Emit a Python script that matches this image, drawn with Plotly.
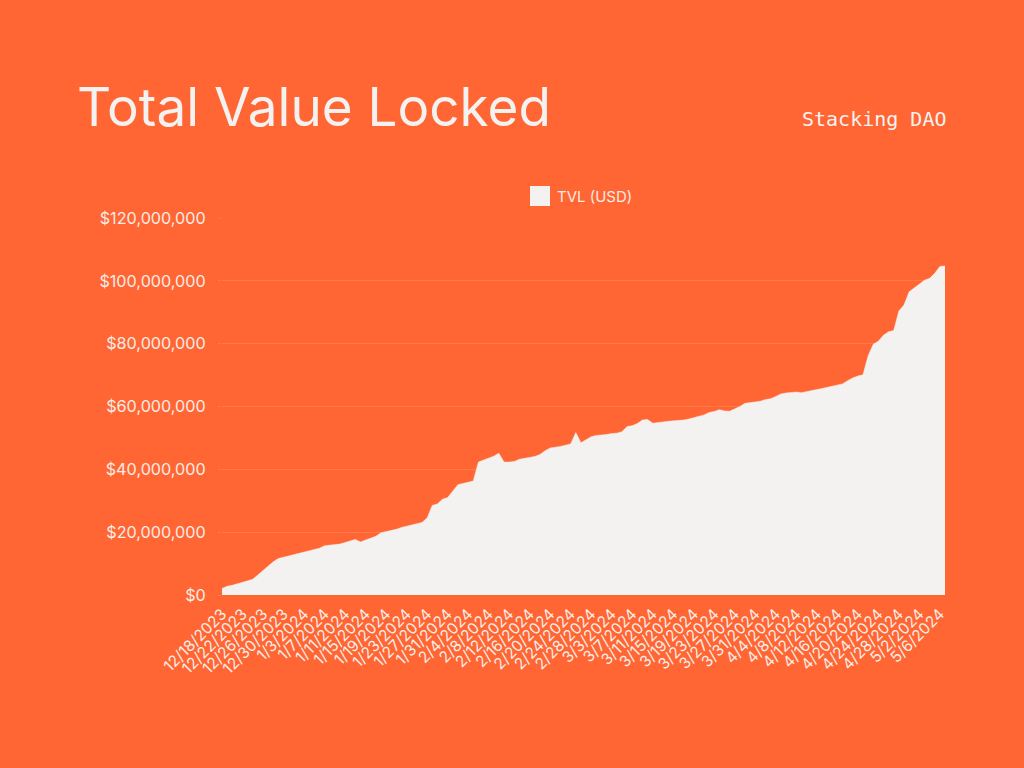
import pandas as pd
import plotly.graph_objects as go

# ---- data ----
start_date = "2023-12-18"
tvl_musd = [
    2.1, 2.8, 3.1, 3.5, 4.1, 4.5, 5.0, 6.4, 7.6, 9.2,
    10.6, 11.6, 12.0, 12.4, 12.8, 13.4, 13.7, 14.1, 14.5, 14.9,
    15.7, 15.9, 16.0, 16.2, 16.7, 17.2, 17.7, 16.9, 17.5, 18.1,
    18.7, 19.8, 20.2, 20.4, 20.9, 21.5, 21.9, 22.2, 22.5, 23.1,
    24.5, 28.5, 29.0, 30.5, 31.0, 33.2, 35.1, 35.5, 36.0, 36.3,
    42.3, 42.9, 43.4, 44.2, 45.1, 42.3, 42.3, 42.5, 43.2, 43.5,
    43.8, 44.1, 44.7, 45.9, 46.8, 47.0, 47.3, 47.7, 48.1, 51.7,
    48.5, 49.4, 50.4, 50.8, 50.9, 51.1, 51.4, 51.5, 52.0, 53.6,
    53.9, 54.6, 55.7, 55.9, 54.7, 54.8, 55.1, 55.3, 55.4, 55.5,
    55.7, 56.0, 56.4, 56.9, 57.3, 58.1, 58.4, 59.0, 58.6, 58.5,
    59.2, 60.0, 61.0, 61.2, 61.4, 61.7, 62.2, 62.5, 63.2, 64.0,
    64.3, 64.4, 64.6, 64.4, 64.8, 65.0, 65.4, 65.7, 66.1, 66.4,
    66.7, 67.2, 68.2, 69.1, 69.7, 70.1, 76.1, 79.8, 80.8, 82.7,
    83.8, 84.2, 90.4, 92.3, 96.5, 97.8, 98.9, 100.2, 100.8, 102.4,
    104.6, 104.7,
]
dates = [f"{d.month}/{d.day}/{d.year}" for d in pd.date_range(start_date, periods=len(tvl_musd), freq="D")]
tvl_usd = [v * 1e6 for v in tvl_musd]
x_tick_labels = dates[::4]
y_tick_values = [0, 20e6, 40e6, 60e6, 80e6, 100e6, 120e6]
y_tick_labels = ["$0", "$20,000,000", "$40,000,000", "$60,000,000", "$80,000,000", "$100,000,000", "$120,000,000"]
title_text = "Total Value Locked"
subtitle_text = "Stacking DAO"
series_name = "TVL (USD)"

# ---- style ----
BG = "#FF6633"
FILL = "#F3F2F0"
TXT = "#F8ECE6"
GRID = "rgba(255,255,255,0.13)"
FONT = "Inter"

L, R, T, B = 222, 945, 218, 595
W, H = R - L, B - T


def px_x(px):
    return (px - L) / W


def px_y(py):
    return (B - py) / H


fig = go.Figure()
fig.add_trace(go.Scatter(
    x=dates, y=tvl_usd, mode="lines", fill="tozeroy",
    fillcolor=FILL, line=dict(color=FILL, width=0.5),
    name=series_name, showlegend=False, hoverinfo="skip",
))

fig.update_layout(
    width=1024, height=768,
    paper_bgcolor=BG, plot_bgcolor=BG,
    margin=dict(l=L, r=1024 - R, t=T, b=768 - B, pad=0),
    font=dict(family=FONT, color=TXT, size=15),
    showlegend=False,
    xaxis=dict(
        type="category", range=[0, len(dates) - 1],
        tickmode="array", tickvals=x_tick_labels, ticktext=x_tick_labels,
        tickangle=-45, showgrid=False, zeroline=False, showline=False,
        ticks="", ticklabelstandoff=6,
        tickfont=dict(size=15.5, color=TXT, family=FONT),
    ),
    yaxis=dict(
        range=[0, 120e6], tickmode="array", tickvals=y_tick_values, ticktext=y_tick_labels,
        showgrid=True, gridcolor=GRID, gridwidth=1, zeroline=False, showline=False,
        ticks="outside", ticklen=3, tickcolor=GRID, ticklabelstandoff=9,
        tickfont=dict(size=16.2, color=TXT, family=FONT),
    ),
    annotations=[
        dict(text=title_text, x=px_x(75), y=px_y(107.5), xref="paper", yref="paper",
             xanchor="left", yanchor="middle", showarrow=False,
             font=dict(family=FONT, size=53, color="#F4F2F0")),
        dict(text=subtitle_text, x=px_x(949), y=px_y(119), xref="paper", yref="paper",
             xanchor="right", yanchor="middle", showarrow=False,
             font=dict(family="DejaVu Sans Mono", size=20, color="#F4F2F0")),
        dict(text=series_name, x=px_x(555), y=px_y(196), xref="paper", yref="paper",
             xanchor="left", yanchor="middle", showarrow=False,
             font=dict(family=FONT, size=15, color=TXT)),
    ],
    shapes=[
        dict(type="rect", xref="paper", yref="paper",
             x0=px_x(530), x1=px_x(550), y0=px_y(206), y1=px_y(186),
             fillcolor=FILL, line=dict(width=0)),
    ],
)

fig.write_html("out.html")
